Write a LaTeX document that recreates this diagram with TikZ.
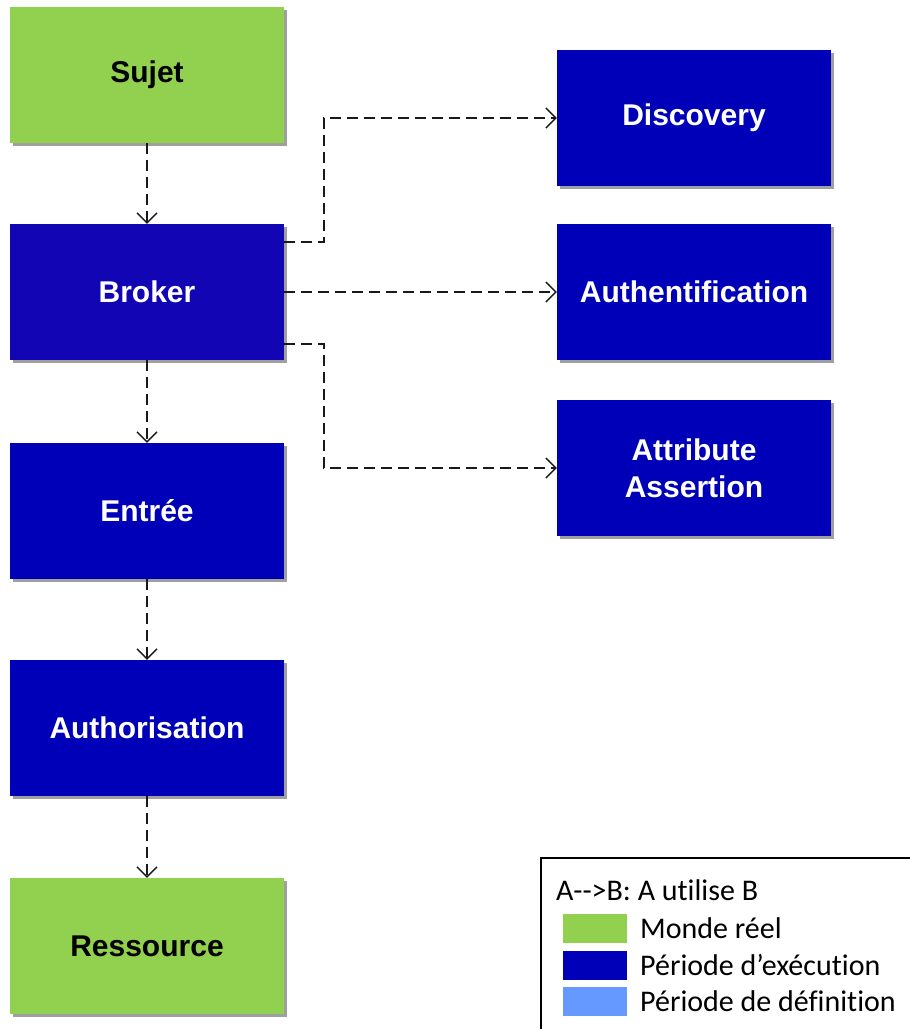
\documentclass[tikz,border=0pt]{standalone}
\usepackage{fontspec}
\setmainfont{Liberation Sans}
\newfontfamily\legendfont[Ligatures=NoCommon]{Carlito}
\usetikzlibrary{arrows.meta,shadows,positioning}
\definecolor{realgreen}{HTML}{92D050}
\definecolor{runblue}{HTML}{0000B8}
\definecolor{brokerblue}{HTML}{1206B4}
\definecolor{defblue}{HTML}{6699FF}
\tikzset{
  box/.style={rectangle, minimum width=274pt, minimum height=136pt, inner sep=0pt,
    align=center, font=\fontsize{30}{37}\selectfont\bfseries,
    drop shadow={shadow xshift=3pt, shadow yshift=-3pt, fill=gray!75, opacity=1}},
  realbox/.style={box, fill=realgreen, text=black},
  runbox/.style={box, fill=runblue, text=white},
  uses/.style={draw=black!90, line width=1.5pt, dash pattern=on 11pt off 6pt,
    -{Straight Barb[length=10pt,width=20pt,line width=1.4pt]}},
  swatch/.style={rectangle, minimum width=64pt, minimum height=29pt, inner sep=0pt},
  legtext/.style={anchor=west, inner sep=0pt, font=\legendfont\fontsize{30}{36}\selectfont}
}
\begin{document}
\begin{tikzpicture}[x=1pt, y=-1pt]
\useasboundingbox (0,0) rectangle (910,1029);
\fill[white] (0,0) rectangle (910,1029);
% left column
\node[realbox] (sujet) at (147,75) {Sujet};
\node[runbox, fill=brokerblue] (broker) at (147,292) {Broker};
\node[runbox] (entree) at (147,511) {Entrée};
\node[runbox] (authz) at (147,728) {Authorisation};
\node[realbox] (res) at (147,946) {Ressource};
% right column
\node[runbox] (disc) at (694,118) {Discovery};
\node[runbox] (authn) at (694,292) {Authentification};
\node[runbox] (attr) at (694,468) {Attribute\\Assertion};
% connectors
\draw[uses] (sujet) -- (broker);
\draw[uses] (broker) -- (entree);
\draw[uses] (entree) -- (authz);
\draw[uses] (authz) -- (res);
\draw[uses] ([yshift=50pt]broker.east) -- ++(40,0) |- (disc.west);
\draw[uses] (broker.east) -- (authn.west);
\draw[uses] ([yshift=-52pt]broker.east) -- ++(40,0) |- (attr.west);
% legend
\draw[line width=2pt] (541,1040) -- (541,858) -- (920,858);
\node[legtext] (legtitle) at (556,890) {A-{}->B: A utilise B};
\node[swatch, fill=realgreen, anchor=west] (sw1) at (563,928) {};
\node[legtext] (lt1) at (640,928) {Monde réel};
\node[swatch, fill=runblue, anchor=west] (sw2) at (563,965) {};
\node[legtext] (lt2) at (640,965) {Période d’exécution};
\node[swatch, fill=defblue, anchor=west] (sw3) at (563,1001) {};
\node[legtext] (lt3) at (640,1001) {Période de définition};
\end{tikzpicture}
\end{document}
